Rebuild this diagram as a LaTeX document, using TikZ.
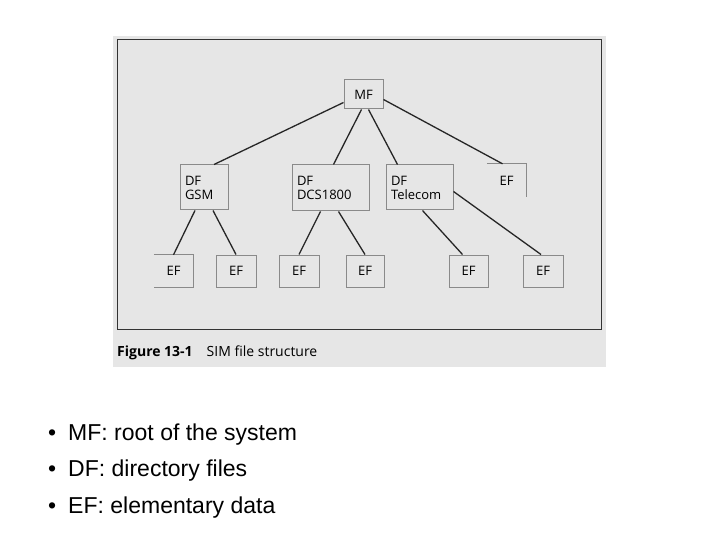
\documentclass[tikz,border=0pt]{standalone}
\usepackage{fontspec}
\setmainfont{Open Sans}
\newfontfamily\arialf{Liberation Sans}
\usetikzlibrary{calc}
\definecolor{panel}{HTML}{E6E6E6}
\definecolor{boxc}{HTML}{8A8A8A}
\begin{document}
\begin{tikzpicture}[x=1pt,y=-1pt,
  box/.style={draw=boxc,line width=1pt,fill=panel,inner sep=0pt,font=\fontsize{13}{14}\selectfont},
  df/.style={box,align=left,text width=#1,inner xsep=5pt},
  ln/.style={line width=1.3pt,black!85}]
\useasboundingbox (0,0) rectangle (720,540);
\fill[white] (0,0) rectangle (720,540);
\fill[panel] (113,36) rectangle (606,367);
\draw[black!80,line width=1pt] (117,40) rectangle (601,329);
\node[box,minimum width=39pt,minimum height=29pt] (mf) at (363.5,94.5) {MF};
\node[df=38pt,minimum height=45pt] (gsm) at (204,187.5) {DF\\GSM};
\node[df=67pt,minimum height=46pt] (dcs) at (330.5,188) {DF\\DCS1800};
\node[df=57pt,minimum height=45pt] (tel) at (419.5,187.5) {DF\\Telecom};
\node[inner sep=0pt,minimum width=39pt,minimum height=33pt,font=\fontsize{13}{14}\selectfont] (eft) at (506.5,180.5) {EF};
\draw[boxc,line width=1pt] (eft.north west) -- (eft.north east) -- (eft.south east);
\node[inner sep=0pt,minimum width=39pt,minimum height=32pt,font=\fontsize{13}{14}\selectfont] (e1) at (173.5,271) {EF};
\draw[boxc,line width=1pt] (e1.north west) -- (e1.north east) -- (e1.south east) -- (e1.south west);
\node[box,minimum width=40pt,minimum height=32pt] (e2) at (236,271) {EF};
\node[box,minimum width=40pt,minimum height=32pt] (e3) at (299,271) {EF};
\node[box,minimum width=38pt,minimum height=32pt] (e4) at (365,271) {EF};
\node[box,minimum width=39pt,minimum height=32pt] (e5) at (468.5,271) {EF};
\node[box,minimum width=40pt,minimum height=32pt] (e6) at (543,271) {EF};
\draw[ln] ($(mf.west)+(0,8)$) -- ($(gsm.north)+(10,0)$);
\draw[ln] ($(mf.south)+(-2,0)$) -- ($(dcs.north)+(3,0)$);
\draw[ln] ($(mf.south)+(5,0)$) -- ($(tel.north)+(-22,0)$);
\draw[ln] ($(mf.east)+(0,5)$) -- ($(eft.north)+(-4,0)$);
\draw[ln] ($(gsm.south)+(-9,0)$) -- ($(e1.north)+(0,0)$);
\draw[ln] ($(gsm.south)+(9,0)$) -- (e2.north);
\draw[ln] ($(dcs.south)+(-10,0)$) -- (e3.north);
\draw[ln] ($(dcs.south)+(8,0)$) -- (e4.north);
\draw[ln] ($(tel.south)+(3,0)$) -- ($(e5.north)+(-6,0)$);
\draw[ln] ($(tel.east)+(0,4)$) -- ($(e6.north)+(-2,0)$);
\node[anchor=west,inner sep=0pt,font=\fontsize{14}{16}\selectfont] (cap) at (117,353) {\textbf{Figure 13-1}\hspace{14pt}SIM file structure};
\node[anchor=west,inner sep=0pt,font=\arialf\fontsize{23}{26}\selectfont,align=left] (b1) at (48,435) {•\hspace{12pt}MF: root of the system};
\node[anchor=west,inner sep=0pt,font=\arialf\fontsize{23}{26}\selectfont,align=left] (b2) at (48,471) {•\hspace{12pt}DF: directory files};
\node[anchor=west,inner sep=0pt,font=\arialf\fontsize{23}{26}\selectfont,align=left] (b3) at (48,508) {•\hspace{12pt}EF: elementary data};
\end{tikzpicture}
\end{document}
